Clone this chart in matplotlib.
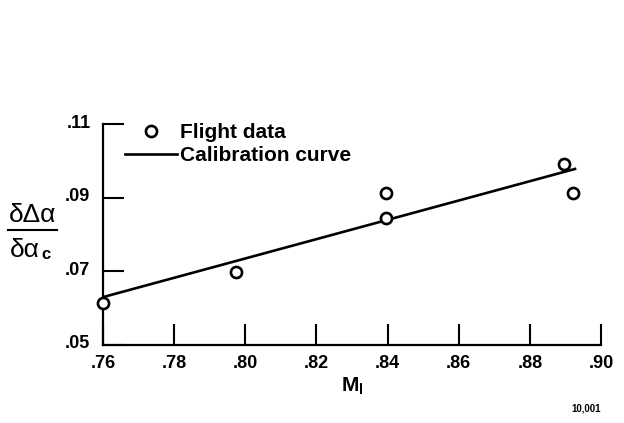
import matplotlib

matplotlib.use("Agg")

import matplotlib.pyplot as plt
import matplotlib.transforms as mtransforms
from matplotlib.lines import Line2D

mach = [0.760, 0.7974, 0.8395, 0.8395, 0.8897, 0.8922]
flight_data = [0.0613, 0.0699, 0.0912, 0.0845, 0.0991, 0.0914]

calibration_mach = [0.760, 0.8927]
calibration_curve = [0.0630, 0.0978]

x_ticks = [0.76, 0.78, 0.80, 0.82, 0.84, 0.86, 0.88, 0.90]
x_tick_labels = [".76", ".78", ".80", ".82", ".84", ".86", ".88", ".90"]
y_ticks = [0.05, 0.07, 0.09, 0.11]
y_tick_labels = [".05", ".07", ".09", ".11"]

W, H = 624, 423

plt.rcParams["font.family"] = ["Liberation Sans", "DejaVu Sans"]
plt.rcParams["font.weight"] = "bold"
plt.rcParams["mathtext.fontset"] = "custom"
plt.rcParams["mathtext.bf"] = "Liberation Sans:bold"
plt.rcParams["mathtext.rm"] = "Liberation Sans"

fig = plt.figure(figsize=(W / 100, H / 100), dpi=100)
ax = fig.add_axes([103 / W, 1 - 345 / H, 498 / W, 221 / H])

ax.plot(calibration_mach, calibration_curve, color="black", linewidth=1.9,
        label="Calibration curve", zorder=2)
ax.plot(mach, flight_data, linestyle="none", marker="o", markersize=8,
        markerfacecolor="white", markeredgecolor="black", markeredgewidth=1.9,
        label="Flight data", zorder=3, clip_on=False)

ax.set_xlim(0.76, 0.90)
ax.set_ylim(0.05, 0.11)
ax.set_xticks(x_ticks)
ax.set_xticklabels(x_tick_labels)
ax.set_yticks(y_ticks)
ax.set_yticklabels(y_tick_labels)
ax.tick_params(direction="in", length=15, width=1.5, labelsize=13)
ax.tick_params(axis="x", pad=7)
ax.tick_params(axis="y", pad=9)

# the scanned y labels sit a little above their ticks
raise_labels = mtransforms.ScaledTranslation(0, 0.03, fig.dpi_scale_trans)
for label in ax.get_yticklabels():
    label.set_transform(label.get_transform() + raise_labels)

for side in ["top", "right"]:
    ax.spines[side].set_visible(False)
for side in ["left", "bottom"]:
    ax.spines[side].set_linewidth(1.6)

handles, labels = ax.get_legend_handles_labels()
ax.legend(handles[::-1], labels[::-1], loc="upper left",
          bbox_to_anchor=(125 / W, 1 - 123 / H), bbox_transform=fig.transFigure,
          frameon=False, fontsize=15, handlelength=2.5, handletextpad=0.15,
          labelspacing=0.2, borderaxespad=0, borderpad=0)

ax.set_xlabel(r"$\mathbf{M}_\mathbf{l}$", fontsize=15, labelpad=3)

# y label drawn as a stacked fraction
fig.text(33 / W, 1 - 222 / H, "δΔα", fontsize=19, fontweight="normal",
         ha="center", va="baseline")
fig.text(10 / W, 1 - 257 / H, "δα", fontsize=19, fontweight="normal",
         ha="left", va="baseline")
fig.text(41 / W, 1 - 259 / H, "c", fontsize=12, fontweight="bold",
         ha="left", va="baseline")
fig.add_artist(Line2D([8 / W, 57 / W], [1 - 230 / H, 1 - 230 / H],
                      color="black", linewidth=1.5))

fig.text(586 / W, 1 - 408 / H, "10,001", fontsize=7, ha="center", va="center")

fig.savefig("out.png", dpi=100)
plt.close(fig)
